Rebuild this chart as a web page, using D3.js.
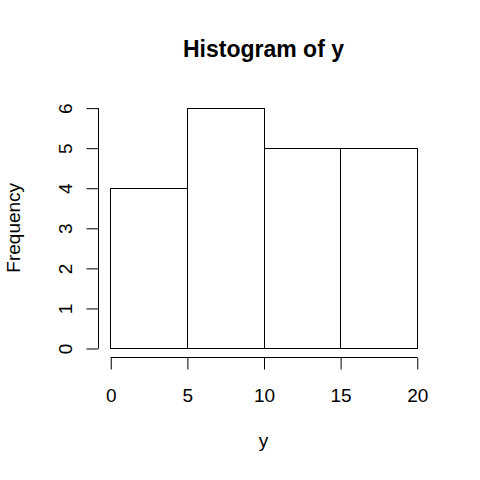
<!DOCTYPE html>
<html><head><meta charset="utf-8">
<script src="https://cdn.jsdelivr.net/npm/d3@7"></script>
<style>html,body{margin:0;padding:0;background:#fff;}svg{display:block;}</style>
</head><body>
<svg id="c" width="480" height="480"></svg>
<script>
const breaks = [0, 5, 10, 15, 20];
const counts = [4, 6, 5, 5];
const xTicks = [0, 5, 10, 15, 20];
const yTicks = [0, 1, 2, 3, 4, 5, 6];
const title = "Histogram of y";
const xLabel = "y";
const yLabel = "Frequency";

const svg = d3.select("#c");
const font = "Liberation Sans, Arial, Helvetica, sans-serif";
const L = 98, R = 429, T = 98, B = 357.6;
const x = d3.scaleLinear().domain([-0.8, 20.8]).range([L, R]);
const y = d3.scaleLinear().domain([-0.24, 6.24]).range([B, T]);

const bins = counts.map((c, i) => ({x0: breaks[i], x1: breaks[i + 1], n: c}));
svg.append("g").selectAll("rect").data(bins).join("rect")
  .attr("x", d => Math.round(x(d.x0)) + 0.5)
  .attr("y", d => Math.round(y(d.n)) + 0.5)
  .attr("width", d => Math.round(x(d.x1)) - Math.round(x(d.x0)))
  .attr("height", d => Math.round(y(0)) - Math.round(y(d.n)))
  .attr("fill", "none").attr("stroke", "#000").attr("stroke-width", 1);

// x axis
const xAxis = d3.axisBottom(x).tickValues(xTicks).tickSize(12).tickPadding(20)
  .tickFormat(d3.format("d"));
const gx = svg.append("g").attr("transform", `translate(0.5,${Math.round(B) - 0.5})`).call(xAxis);
gx.select(".domain").attr("d", `M${x(0)},0H${x(20)}`).attr("stroke", "#000");
gx.selectAll(".tick line").attr("stroke", "#000");
gx.selectAll(".tick text").attr("font-family", font).attr("font-size", 19).attr("fill", "#000")
  .attr("dy", null).attr("y", 44);

// y axis
const yAxis = d3.axisLeft(y).tickValues(yTicks).tickSize(12).tickFormat(d3.format("d"));
const gy = svg.append("g").attr("transform", `translate(${L + 0.5},0.5)`).call(yAxis);
gy.select(".domain").attr("d", `M0,${y(0)}V${y(6)}`).attr("stroke", "#000");
gy.selectAll(".tick line").attr("stroke", "#000");
gy.selectAll(".tick text").attr("font-family", font).attr("font-size", 19).attr("fill", "#000")
  .attr("x", null).attr("dy", null).attr("text-anchor", "middle")
  .attr("transform", "translate(-27,0) rotate(-90)");

// title
svg.append("text").attr("x", (L + R) / 2).attr("y", 57).attr("text-anchor", "middle")
  .attr("font-family", font).attr("font-size", 23).attr("font-weight", "bold").text(title);
// x label
svg.append("text").attr("x", (L + R) / 2).attr("y", 447).attr("text-anchor", "middle")
  .attr("font-family", font).attr("font-size", 19).text(xLabel);
// y label
svg.append("text").attr("transform", `translate(20,${(T + B) / 2}) rotate(-90)`).attr("text-anchor", "middle")
  .attr("font-family", font).attr("font-size", 19).text(yLabel);
</script>
</body></html>
